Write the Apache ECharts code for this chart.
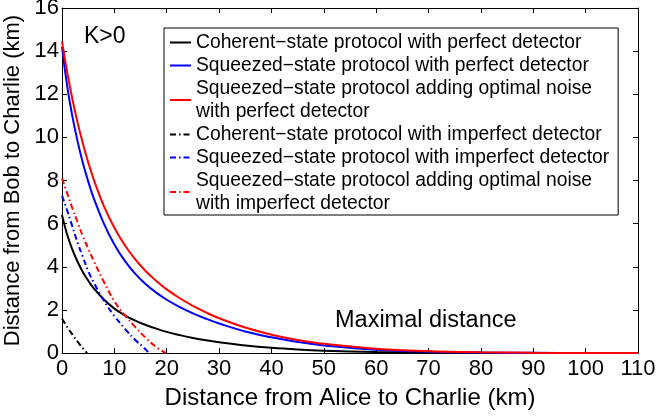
<!DOCTYPE html>
<html>
<head>
<meta charset="utf-8">
<script src="https://cdn.jsdelivr.net/npm/echarts@6/dist/echarts.min.js"></script>
<style>
  html, body { margin: 0; padding: 0; background: #fff; }
  #chart { width: 657px; height: 418px; }
</style>
</head>
<body>
<div id="chart"></div>
<script>
// x grid shared by the perfect-detector curves (km)
const distX = [0, 1, 2, 3, 4, 5, 6, 8, 10, 12, 14, 16, 18, 20, 22.5, 25, 27.5, 30, 35, 40, 45, 50, 60, 70, 80, 90, 100, 110];
const coherentPerfect = [6.4, 5.48, 4.78, 4.22, 3.75, 3.36, 3.02, 2.48, 2.06, 1.75, 1.5, 1.3, 1.13, 0.98, 0.83, 0.7, 0.59, 0.5, 0.35, 0.24, 0.163, 0.11, 0.047, 0.019, 0.007, 0.003, 0.001, 0];
const squeezedPerfect = [14.2, 12.37, 10.95, 9.79, 8.8, 7.96, 7.22, 6.0, 5.03, 4.27, 3.67, 3.19, 2.8, 2.47, 2.13, 1.84, 1.59, 1.37, 1.0, 0.726, 0.512, 0.352, 0.155, 0.063, 0.023, 0.008, 0.0025, 0.001];
const noisePerfect = [14.45, 13.01, 11.76, 10.66, 9.7, 8.85, 8.09, 6.81, 5.81, 5.0, 4.34, 3.79, 3.34, 2.95, 2.54, 2.19, 1.88, 1.61, 1.18, 0.85, 0.605, 0.424, 0.198, 0.085, 0.033, 0.011, 0.0035, 0.001];

// imperfect-detector curves
const coherentImpX = [0, 1, 2, 3, 4, 4.8];
const coherentImpY = [1.6, 1.2, 0.85, 0.52, 0.22, 0];
const squeezedImpX = [0, 1, 2, 3, 4, 5, 6, 8, 10, 12, 14, 15.5, 16.6];
const squeezedImpY = [7.3, 6.6, 5.85, 5.1, 4.45, 3.8, 3.3, 2.42, 1.72, 1.13, 0.6, 0.28, 0];
const noiseImpX = [0, 1, 2, 3, 4, 5, 6, 8, 10, 12, 14, 16, 18, 19.8];
const noiseImpY = [8.1, 7.4, 6.7, 6.05, 5.4, 4.85, 4.3, 3.3, 2.4, 1.75, 1.2, 0.7, 0.27, 0];

const names = [
  'Coherent\u2212state protocol with perfect detector',
  'Squeezed\u2212state protocol with perfect detector',
  'Squeezed\u2212state protocol adding optimal noise\nwith perfect detector',
  'Coherent\u2212state protocol with imperfect detector',
  'Squeezed\u2212state protocol with imperfect detector',
  'Squeezed\u2212state protocol adding optimal noise\nwith imperfect detector'
];

const font = 'Liberation Sans, Arial, Helvetica, sans-serif';
const dashDot = [6, 3, 1.5, 3];

function pairs(xs, ys) {
  return xs.map((x, i) => [x, ys[i]]);
}

function lineSeries(name, xs, ys, color, dashed) {
  return {
    name: name,
    type: 'line',
    data: pairs(xs, ys),
    smooth: 0.4,
    symbol: 'none',
    lineStyle: { color: color, width: 2, type: dashed ? dashDot : 'solid' },
    itemStyle: { color: color }
  };
}

const chart = echarts.init(document.getElementById('chart'));

const ticks = { show: true, inside: true, length: 5, lineStyle: { color: '#000' } };
const axisLine = { show: true, onZero: false, lineStyle: { color: '#000', width: 1 } };

chart.setOption({
  animation: false,
  backgroundColor: '#fff',
  grid: { left: 62, right: 19, top: 8, bottom: 65, outerBoundsMode: 'none', containLabel: false },
  xAxis: [
    {
      type: 'value', min: 0, max: 110, interval: 10,
      name: 'Distance from Alice to Charlie (km)',
      nameLocation: 'middle', nameGap: 33,
      nameTextStyle: { fontFamily: font, fontSize: 24, color: '#000' },
      axisLine: axisLine, axisTick: ticks,
      axisLabel: { fontFamily: font, fontSize: 22, color: '#000', margin: 5 },
      splitLine: { show: false }
    },
    {
      type: 'value', min: 0, max: 110, interval: 10, position: 'top',
      axisLine: axisLine, axisTick: ticks,
      axisLabel: { show: false }, splitLine: { show: false }
    }
  ],
  yAxis: [
    {
      type: 'value', min: 0, max: 16, interval: 2,
      name: 'Distance from Bob to Charlie (km)',
      nameLocation: 'middle', nameGap: 35,
      nameTextStyle: { fontFamily: font, fontSize: 22, color: '#000' },
      axisLine: axisLine, axisTick: ticks,
      axisLabel: { fontFamily: font, fontSize: 22, color: '#000', margin: 3 },
      splitLine: { show: false }
    },
    {
      type: 'value', min: 0, max: 16, interval: 2, position: 'right',
      axisLine: axisLine, axisTick: ticks,
      axisLabel: { show: false }, splitLine: { show: false }
    }
  ],
  legend: {
    orient: 'vertical',
    left: 164, top: 28,
    padding: [3, 9, 0, 5],
    itemGap: 0,
    itemWidth: 21,
    itemHeight: 10,
    // hide the symbol drawn in the middle of each line icon
    itemStyle: { color: 'rgba(0,0,0,0)', borderWidth: 0, opacity: 0 },
    borderColor: '#000',
    borderWidth: 1,
    backgroundColor: '#fff',
    textStyle: { fontFamily: font, fontSize: 19.3, color: '#000', lineHeight: 23 },
    data: names
  },
  graphic: [
    {
      type: 'text', left: 84, top: 25,
      style: { text: 'K>0', font: '23px ' + font, fill: '#000' }
    },
    {
      type: 'text', left: 335, top: 309,
      style: { text: 'Maximal distance', font: '23.5px ' + font, fill: '#000' }
    }
  ],
  series: [
    lineSeries(names[0], distX, coherentPerfect, '#000000', false),
    lineSeries(names[1], distX, squeezedPerfect, '#0000ff', false),
    lineSeries(names[2], distX, noisePerfect, '#ff0000', false),
    lineSeries(names[3], coherentImpX, coherentImpY, '#000000', true),
    lineSeries(names[4], squeezedImpX, squeezedImpY, '#0000ff', true),
    lineSeries(names[5], noiseImpX, noiseImpY, '#ff0000', true)
  ]
});
</script>
</body>
</html>
